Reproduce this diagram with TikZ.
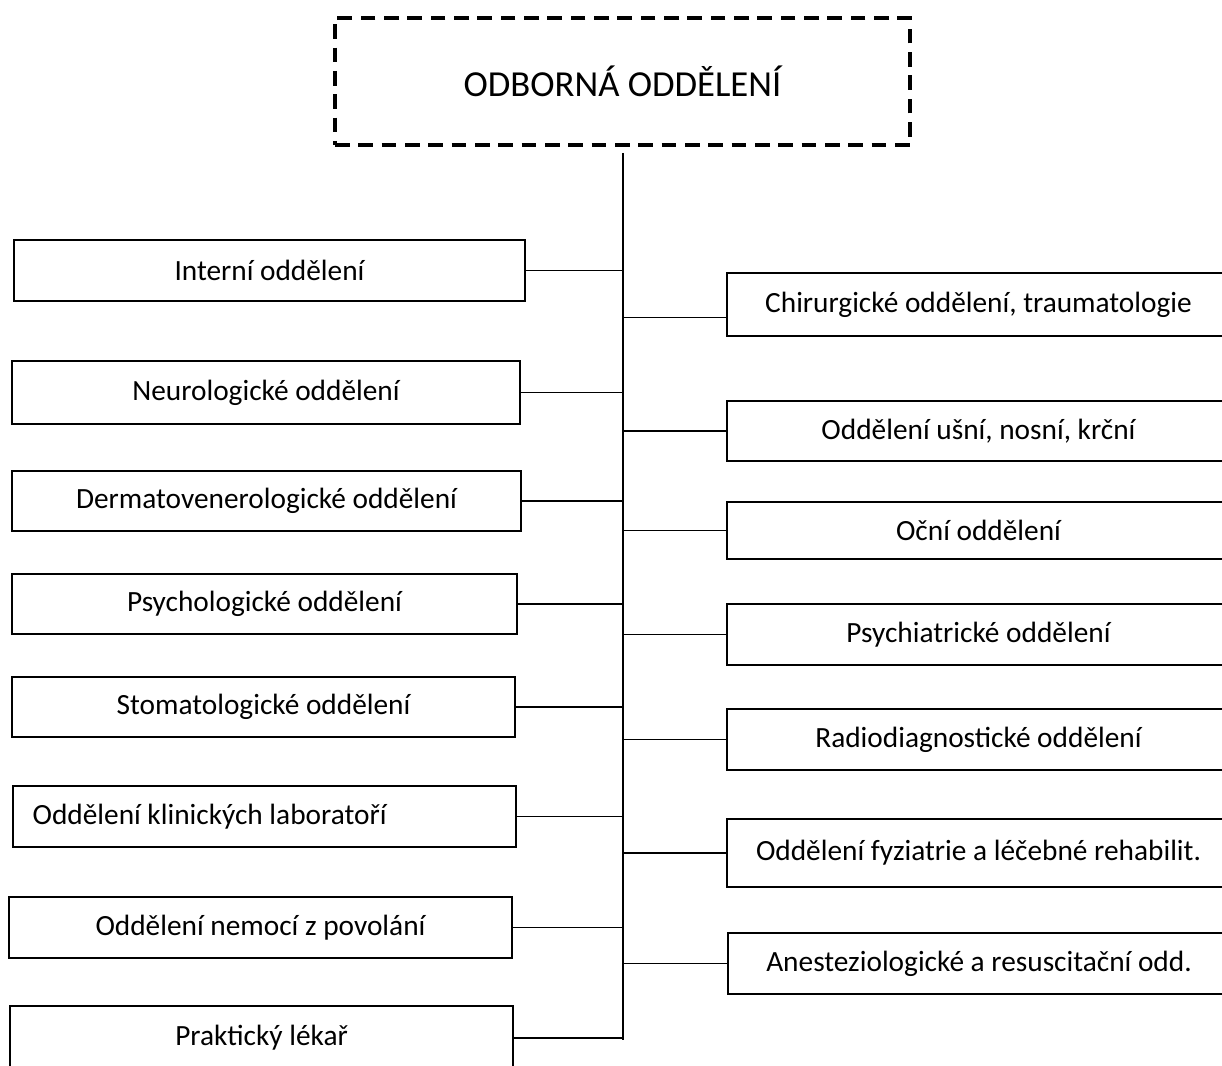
\documentclass[tikz,border=0pt]{standalone}
\usepackage{fontspec}
\setmainfont{Carlito}
\usetikzlibrary{fit}
\tikzset{
  box/.style={draw, line width=1pt, inner sep=0pt},
  thickbox/.style={box, line width=1.6pt},
  titlebox/.style={draw, line width=2.6pt, dash pattern=on 11pt off 6.5pt, inner sep=0pt},
  every label/.style={inner sep=0pt, font=\fontsize{22}{26}\selectfont},
  titletext/.style={inner sep=0pt, font=\fontsize{27.5}{32}\selectfont},
  trunk/.style={line width=1.8pt},
  conn/.style={line width=0.9pt}
}
\begin{document}
\begin{tikzpicture}[x=0.75pt,y=-0.75pt]
  \clip (0,0) rectangle (1222,1066);
  \node [titlebox, fit={(335,18) (910,145)}, label={[titletext]center:ODBORNÁ ODDĚLENÍ}] (title) {};
  \coordinate (top) at (623,153);
  \coordinate (bot) at (623,1040);
  \draw [trunk] (top) -- (bot);

  % levá strana
  \node [box, fit={(14,240) (525,301)}, label={center:Interní oddělení}] (int) {};
  \node [thickbox, fit={(12,361) (520,424)}, label={center:Neurologické oddělení}] (neu) {};
  \node [box, fit={(12,471) (521,531)}, label={center:Dermatovenerologické oddělení}] (der) {};
  \node [thickbox, fit={(12,574) (517,634)}, label={center:Psychologické oddělení}] (psl) {};
  \node [box, fit={(12,677) (515,737)}, label={center:Stomatologické oddělení}] (sto) {};
  \node [box, fit={(13,786) (516,847)}, label={[anchor=west, xshift=15pt]west:Oddělení klinických laboratoří}] (kli) {};
  \node [box, fit={(9,897) (512,958)}, label={center:Oddělení nemocí z povolání}] (nem) {};
  \node [thickbox, fit={(10,1006) (513,1070)}, label={center:Praktický lékař}] (pra) {};

  % pravá strana
  \node [thickbox, fit={(727,273) (1230,336)}, label={center:Chirurgické oddělení, traumatologie}] (chi) {};
  \node [box, fit={(727,401) (1230,461)}, label={center:Oddělení ušní, nosní, krční}] (usn) {};
  \node [box, fit={(727,502) (1230,559)}, label={center:Oční oddělení}] (ocn) {};
  \node [thickbox, fit={(727,604) (1230,665)}, label={center:Psychiatrické oddělení}] (psy) {};
  \node [box, fit={(727,709) (1230,770)}, label={center:Radiodiagnostické oddělení}] (rad) {};
  \node [box, fit={(727,819) (1230,887)}, label={center:Oddělení fyziatrie a léčebné rehabilit.}] (fyz) {};
  \node [box, fit={(728,933) (1230,994)}, label={center:Anesteziologické a resuscitační odd.}] (ane) {};

  \foreach \n in {int,neu,der,psl,sto,kli,nem,pra}
    \draw [conn] (\n.east) -- (\n.east -| top);
  \foreach \n in {usn,ocn,psy,rad,fyz,ane}
    \draw [conn] (\n.west) -- (\n.west -| top);
  \draw [conn] ([yshift=-9.75pt]chi.west) -- ([yshift=-9.75pt]chi.west -| top);
\end{tikzpicture}
\end{document}
